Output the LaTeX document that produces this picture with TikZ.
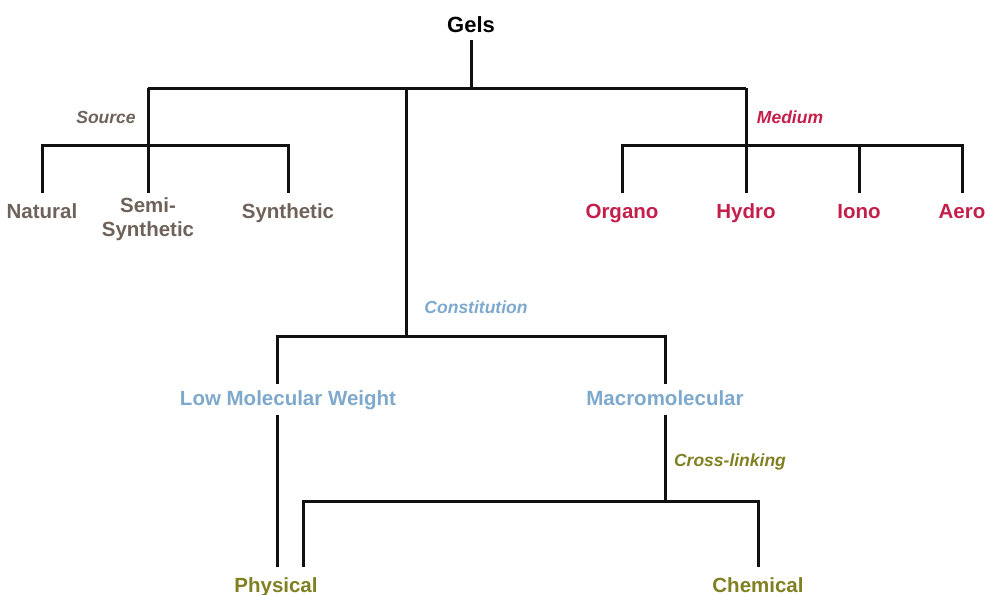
\documentclass[tikz,border=0pt]{standalone}
\usepackage{fontspec}
\setmainfont{Liberation Sans}
\definecolor{srccol}{HTML}{6E625A}
\definecolor{medcol}{HTML}{C41E4A}
\definecolor{concol}{HTML}{7EA9CD}
\definecolor{xcol}{HTML}{7F8022}
\definecolor{linecol}{HTML}{111111}
\tikzset{
  conn/.style={draw=linecol, line width=3pt, line join=miter},
  leaf/.style={font=\bfseries\fontsize{20.5}{24}\selectfont, inner xsep=0pt, inner ysep=10pt,
    text height=15pt, text depth=4pt, anchor=north},
  midleaf/.style={leaf, inner ysep=6pt},
  crit/.style={font=\bfseries\itshape\fontsize{17.5}{20}\selectfont, inner sep=0pt, anchor=base},
}
\begin{document}
\begin{tikzpicture}[x=1pt,y=-1pt]
\useasboundingbox (0,0) rectangle (989,595);
% nodes
\node[font=\bfseries\fontsize{22}{26}\selectfont, inner xsep=0pt, inner ysep=7pt,
  text height=16pt, text depth=0pt, anchor=south] (gels) at (471,40) {Gels};
\node[leaf, text=srccol] (natural) at (42,193) {Natural};
\node[anchor=north, inner xsep=0pt, inner ysep=4pt, align=center, text=srccol,
  font=\bfseries\fontsize{20.5}{24}\selectfont] (semi) at (148,193) {Semi-\\Synthetic};
\node[leaf, text=srccol] (synthetic) at (288,193) {Synthetic};
\node[leaf, text=medcol] (organo) at (622,193) {Organo};
\node[leaf, text=medcol] (hydro) at (746,193) {Hydro};
\node[leaf, text=medcol] (iono) at (859,193) {Iono};
\node[leaf, text=medcol] (aero) at (962,193) {Aero};
\node[midleaf, text=concol] (lmw) at (288,384) {Low Molecular Weight};
\node[midleaf, text=concol] (macro) at (665,384) {Macromolecular};
\node[leaf, text=xcol] (physical) at (276,567) {Physical};
\node[leaf, text=xcol] (chemical) at (758,567) {Chemical};
% criteria labels
\node[crit, text=srccol] (source) at (106,123) {Source};
\node[crit, text=medcol] (medium) at (790,123) {Medium};
\node[crit, text=concol] (constitution) at (476,313) {Constitution};
\node[crit, text=xcol] (crosslinking) at (730,466) {Cross-linking};
% junctions
\coordinate (jtop) at (471,88);
\coordinate (jsrc) at (148,88);
\coordinate (jcon) at (406,88);
\coordinate (jmed) at (746,88);
\coordinate (bsrc) at (148,145);
\coordinate (bmed) at (746,145);
\coordinate (bcon) at (406,336);
\coordinate (cL) at (277,336);
\coordinate (bcross) at (665,501);
\coordinate (xL) at (303,501);
% connectors
\draw[conn] (gels.south) -- (jtop);
\draw[conn] (jsrc) -- (jmed);
\draw[conn] (jsrc) -- (semi.north);
\draw[conn] (natural.north) |- (bsrc) -| (synthetic.north);
\draw[conn] (jmed) -- (hydro.north);
\draw[conn] (organo.north) |- (bmed) -| (aero.north);
\draw[conn] (iono.north) -- (iono.north |- bmed);
\draw[conn] (jcon) -- (bcon);
\draw[conn] (lmw.north -| cL) |- (bcon) -| (macro.north);
\draw[conn] (lmw.south -| cL) -- (physical.north -| cL);
\draw[conn] (macro.south) -- (bcross);
\draw[conn] (physical.north -| xL) |- (bcross) -| (chemical.north);
\end{tikzpicture}
\end{document}
